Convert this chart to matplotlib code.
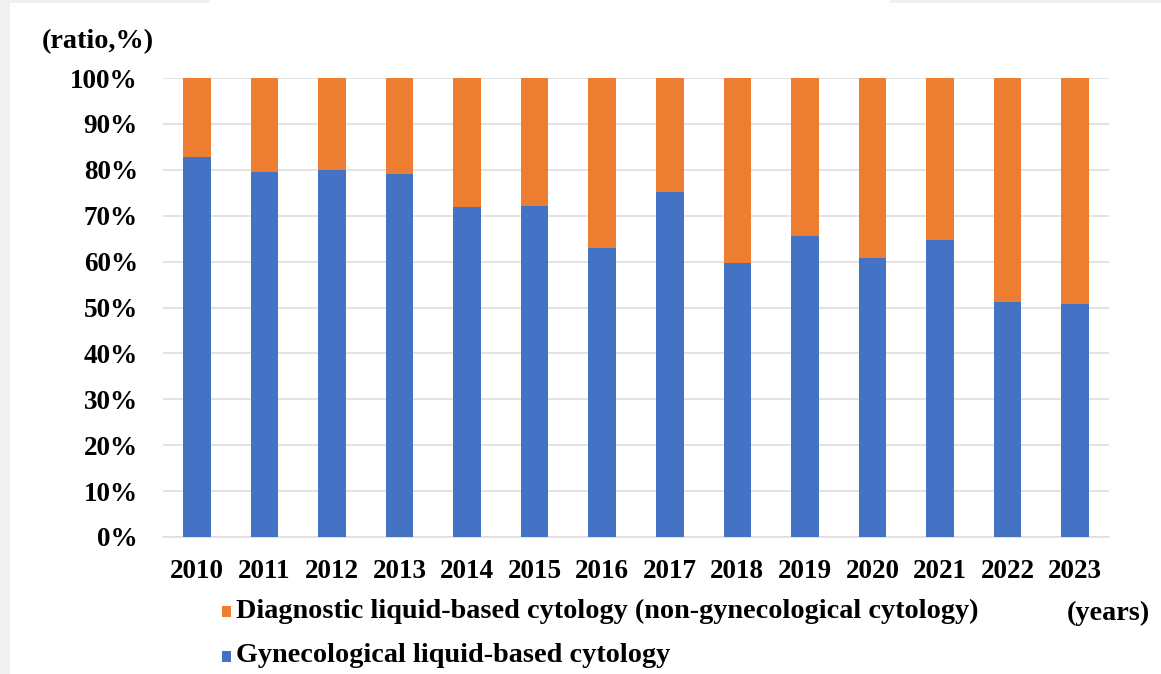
import matplotlib.pyplot as plt
from matplotlib.patches import Rectangle

years = ['2010', '2011', '2012', '2013', '2014', '2015', '2016',
         '2017', '2018', '2019', '2020', '2021', '2022', '2023']
# share of gynecological LBC (%), the rest is non-gynecological
gyn = [82.7, 79.6, 79.9, 79.1, 72.0, 72.2, 63.0,
       75.1, 59.6, 65.6, 60.8, 64.6, 51.2, 50.7]
diag = [100 - g for g in gyn]
labels = ['Diagnostic liquid-based cytology (non-gynecological cytology)',
          'Gynecological liquid-based cytology']

blue = '#4472C4'
orange = '#ED7D31'
font = 'Liberation Serif'
W, H = 1161, 674

fig = plt.figure(figsize=(W / 100, H / 100), dpi=100)
fig.patch.set_facecolor('#f0f0f0')
# white card
fig.patches.append(Rectangle((10 / W, 0), 1, 1 - 3 / H, transform=fig.transFigure,
                             facecolor='white', edgecolor='none', zorder=-10))
fig.patches.append(Rectangle((210 / W, 0.9), (890 - 210) / W, 0.2, transform=fig.transFigure,
                             facecolor='white', edgecolor='none', zorder=-10))

ax = fig.add_axes([163 / W, 1 - 537 / H, (1109 - 163) / W, (537 - 78) / H])
ax.set_facecolor('white')
x = range(len(years))
ax.bar(x, gyn, width=0.41, color=blue, zorder=3)
ax.bar(x, diag, width=0.41, bottom=gyn, color=orange, zorder=3)

ax.set_xlim(-0.5, len(years) - 0.5)
ax.set_ylim(0, 100)
ax.set_yticks(range(0, 101, 10))
ax.set_yticklabels([f'{v}%' for v in range(0, 101, 10)])
ax.set_xticks(list(x))
ax.set_xticklabels(years)
ax.grid(axis='y', color='#dedede', linewidth=1.2, zorder=0)
ax.tick_params(length=0)
ax.tick_params(axis='y', pad=18)
ax.tick_params(axis='x', pad=16)
for s in ['top', 'right', 'left']:
    ax.spines[s].set_visible(False)
ax.spines['bottom'].set_color('#dedede')
ax.spines['bottom'].set_linewidth(1.2)
for lab in ax.get_xticklabels() + ax.get_yticklabels():
    lab.set_fontfamily(font)
    lab.set_fontweight('bold')
    lab.set_fontsize(19.5)

txt = dict(fontfamily=font, fontweight='bold', fontsize=20.3, va='center')
fig.text(42 / W, 1 - 42 / H, '(ratio,%)', ha='left', **txt)
fig.text(1150 / W, 1 - 613 / H, '(years)', ha='right', **txt)

# legend rows: small square + label
for (lab, col), yy in zip(zip(labels, [orange, blue]), [611, 656]):
    fig.patches.append(Rectangle((222 / W, 1 - (yy + 6) / H), 9 / W, 11 / H,
                                 transform=fig.transFigure, facecolor=col,
                                 edgecolor='none'))
    fig.text(236 / W, 1 - yy / H, lab, ha='left', **txt)

fig.savefig('out.png', dpi=100)
